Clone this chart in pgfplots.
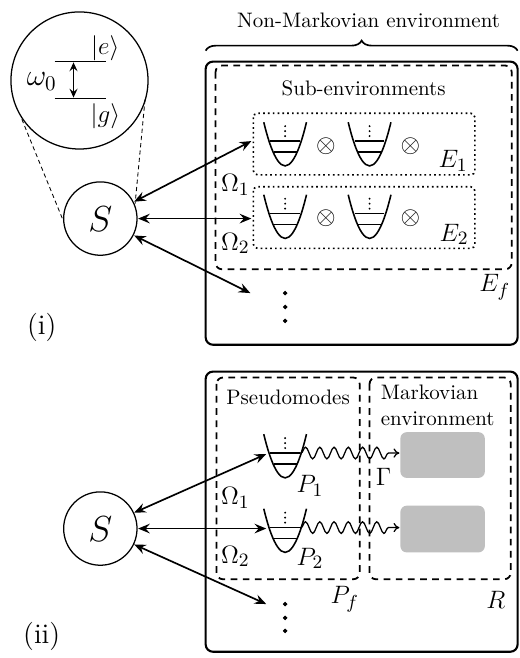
\documentclass[border=0pt]{standalone}
\usepackage{pgfplots}
\pgfplotsset{compat=1.18}
\usetikzlibrary{arrows.meta,decorations.pathreplacing,decorations.pathmorphing}
\tikzset{
  arr/.style={thick,{Stealth[length=5.6pt,width=4.6pt,inset=2pt]}-{Stealth[length=5.6pt,width=4.6pt,inset=2pt]}},
  dotbox/.style={line width=0.8pt, dash pattern=on 0.8pt off 1.5pt, rounded corners=2pt},
  dashbox/.style={line width=0.85pt, dash pattern=on 3.2pt off 2.6pt, rounded corners=3pt},
  solidbox/.style={line width=1pt, rounded corners=3.5pt},
  wave/.style={semithick, -{To[length=2.8pt,width=4.4pt]}, decorate,
     decoration={snake, amplitude=2.8pt, segment length=6.8pt, post length=3pt, pre length=0.5pt}},
  lab/.style={font=\fontsize{13}{15}\selectfont},
}
\newcommand{\osc}[2]{%
  \draw[line width=0.75pt] (#1-21.5,#2) parabola bend (#1,#2+44) (#1+21.5,#2);
  \draw[semithick] (#1-15,#2+19) -- (#1+15,#2+19);
  \draw[semithick] (#1-11.5,#2+30) -- (#1+11.5,#2+30);
  \fill (#1,#2+4) circle[radius=0.5pt];
  \fill (#1,#2+9) circle[radius=0.5pt];
  \fill (#1,#2+14) circle[radius=0.5pt];
}
\begin{document}
\begin{tikzpicture}
\begin{axis}[scale only axis, width=247.9pt, height=311.9pt,
  xmin=0, xmax=523, ymin=0, ymax=658, y dir=reverse,
  hide axis, clip=false]
\path (0,0) rectangle (523,658);

% ---------------- panel (i)
\draw[semithick] (80,81) circle[radius=32.7pt];
\draw[thick] (55,62) -- (107,62);
\draw[thick] (55,99) -- (107,99);
\draw[semithick,{Stealth[length=4.2pt,width=3.8pt,inset=1.5pt]}-{Stealth[length=4.2pt,width=3.8pt,inset=1.5pt]}] (74,62.8) -- (74,98.2);
\node[font=\fontsize{11.5}{13}\selectfont] at (106,49) {$|e\rangle$};
\node[font=\fontsize{11.5}{13}\selectfont] at (106,117) {$|g\rangle$};
\node[font=\fontsize{14}{16}\selectfont] at (42,82) {$\omega_0$};
\draw[thin, dash pattern=on 2pt off 1.5pt] (22,120) -- (64,223);
\draw[thin, dash pattern=on 2pt off 1.5pt] (146,100) -- (136,205);

\draw[semithick] (101,220) circle[radius=17.5pt];
\node[font=\fontsize{16}{18}\selectfont] at (101,221) {$S$};
\draw[arr] (135,203) -- (253,142);
\draw[arr] (139,220) -- (253,220);
\draw[arr] (135,237) -- (252,295);

\draw[thick, decorate, decoration={brace, amplitude=4.8pt}] (207,51) -- (521,51);
\node at (371,20) {Non-Markovian environment};
\draw[solidbox] (207,62) rectangle (521,347);
\draw[dashbox] (217,66) rectangle (515,271);
\node at (366,89) {Sub-environments};
\draw[dotbox] (255,114) rectangle (478,176);
\draw[dotbox] (255,188) rectangle (478,250);
\osc{287}{123}
\osc{372}{123}
\osc{287}{196}
\osc{372}{196}
\node[font=\fontsize{12.5}{14}\selectfont] at (328,147) {$\otimes$};
\node[font=\fontsize{12.5}{14}\selectfont] at (413,147) {$\otimes$};
\node[font=\fontsize{12.5}{14}\selectfont] at (328,220) {$\otimes$};
\node[font=\fontsize{12.5}{14}\selectfont] at (413,220) {$\otimes$};
\node[lab] at (456,162) {$E_1$};
\node[lab] at (457,236) {$E_2$};
\node[lab] at (498,289) {$E_f$};
\node[lab] at (237,186) {$\Omega_1$};
\node[lab] at (237,245) {$\Omega_2$};
\addplot[only marks, mark=*, mark size=0.85pt, black] coordinates {(287,295) (287,309) (287,323)};
\node[font=\fontsize{13.5}{16}\selectfont] at (42,330) {(i)};

% ---------------- panel (ii)
\draw[solidbox] (207,374) rectangle (521,656);
\draw[dashbox] (218,380) rectangle (362,583);
\draw[dashbox] (372,380) rectangle (514,583);
\node at (290,400) {Pseudomodes};
\node[align=left, anchor=west, inner sep=0pt] at (383,408) {Markovian\\environment};
\fill[gray!50, rounded corners=3pt] (403,435) rectangle (488,481);
\fill[gray!50, rounded corners=3pt] (403,509) rectangle (488,556);
\osc{287}{437}
\osc{287}{512}
\draw[wave] (302,456) -- (402,456);
\draw[wave] (302,531) -- (402,531);
\node[lab] at (386,480) {$\Gamma$};
\node[lab] at (312,489) {$P_1$};
\node[lab] at (312,562) {$P_2$};
\node[lab] at (237,501) {$\Omega_1$};
\node[lab] at (237,560) {$\Omega_2$};
\node[lab] at (347,603) {$P_f$};
\node[lab] at (499,604) {$R$};
\addplot[only marks, mark=*, mark size=0.85pt, black] coordinates {(287,608) (287,622) (287,635)};

\draw[semithick] (101,532) circle[radius=17.5pt];
\node[font=\fontsize{16}{18}\selectfont] at (101,533) {$S$};
\draw[arr] (135,516) -- (268,457);
\draw[arr] (139,532) -- (268,532);
\draw[arr] (135,548) -- (268,608);
\node[font=\fontsize{13.5}{16}\selectfont] at (42,641) {(ii)};
\end{axis}
\end{tikzpicture}
\end{document}
